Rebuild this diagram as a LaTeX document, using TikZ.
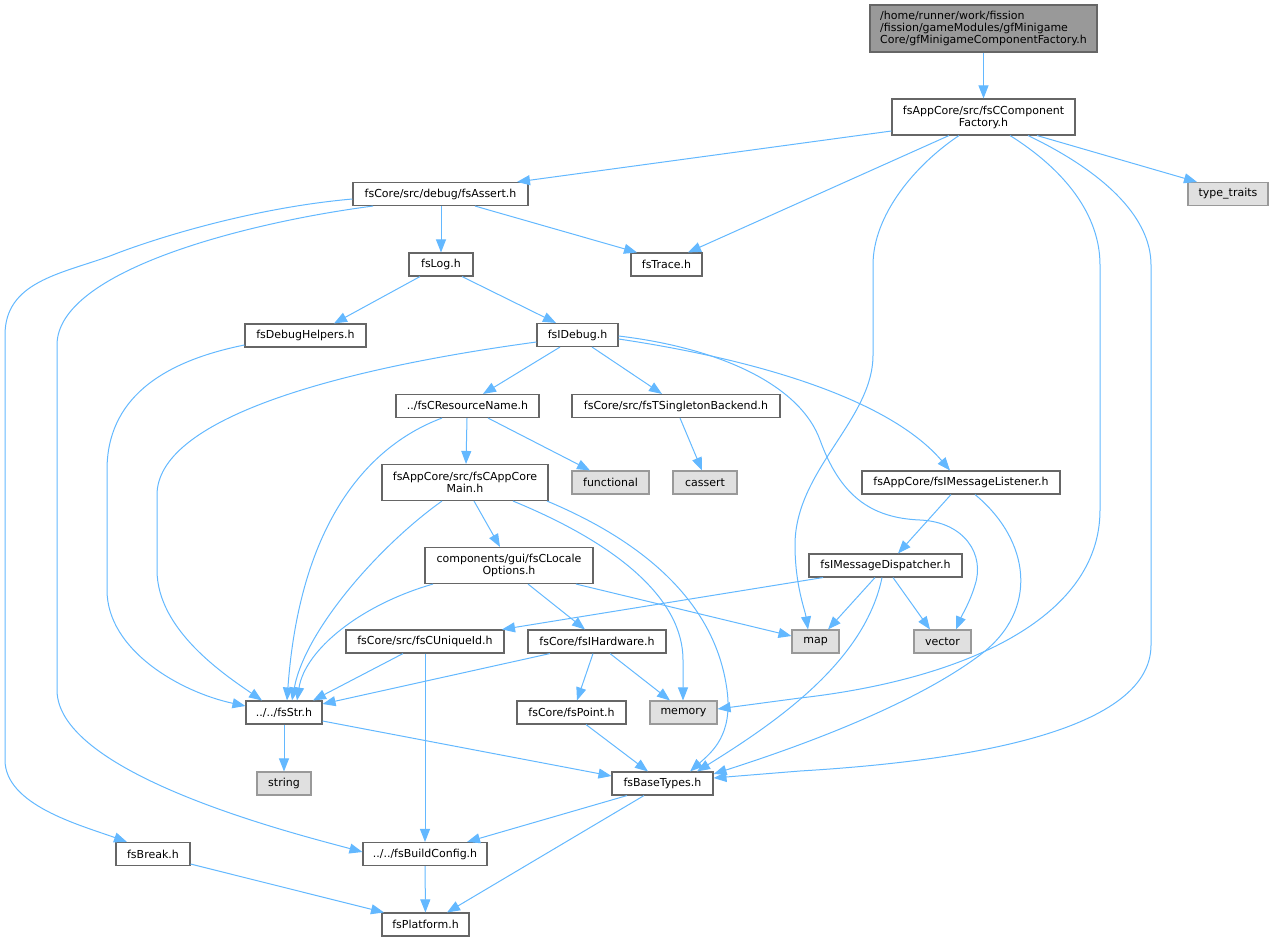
\documentclass[tikz,border=0pt]{standalone}
\usepackage{fontspec}
\setmainfont{DejaVu Sans}
\usetikzlibrary{arrows.meta}
\definecolor{edgeblue}{HTML}{63B8FF}
\definecolor{bord}{HTML}{666666}
\definecolor{extbord}{HTML}{999999}
\definecolor{extfill}{HTML}{E0E0E0}
\definecolor{topfill}{HTML}{999999}
\newcommand{\nfnt}{\fontsize{11pt}{12pt}\selectfont}
\begin{document}
\begin{tikzpicture}[x=1pt,y=-1pt,
  nbox/.style={draw=bord, fill=white, line width=1.1pt, inner sep=0pt, minimum height=23pt, font=\nfnt, align=center},
  xbox/.style={nbox, draw=extbord, fill=extfill},
  twoline/.style={minimum height=36pt},
  edg/.style={draw=edgeblue, line width=1pt, -{Triangle[length=13pt,width=10pt]}}]
\useasboundingbox (0,0) rectangle (1273,941);
% nodes
\node[nbox, fill=topfill, align=left, minimum width=227pt, minimum height=47pt] (top) at (983.5,28.5) {/home/runner/work/fission\\/fission/gameModules/gfMinigame\\Core/gfMinigameComponentFactory.h};
\node[nbox, twoline, minimum width=183pt] (fact) at (983.5,117) {fsAppCore/src/fsCComponent\\Factory.h};
\node[xbox, minimum width=80pt] (tt) at (1228,194) {type\_traits};
\node[nbox, minimum width=175pt] (assert) at (440.5,194) {fsCore/src/debug/fsAssert.h};
\node[nbox, minimum width=64pt] (log) at (441,264.5) {fsLog.h};
\node[nbox, minimum width=71pt] (trace) at (666.5,264.5) {fsTrace.h};
\node[nbox, minimum width=81pt] (idebug) at (577.5,335) {fsIDebug.h};
\node[nbox, minimum width=121pt] (dbgh) at (305.5,335.5) {fsDebugHelpers.h};
\node[nbox, minimum width=143pt] (resname) at (467.5,406) {../fsCResourceName.h};
\node[nbox, minimum width=208pt] (single) at (676,406) {fsCore/src/fsTSingletonBackend.h};
\node[nbox, twoline, minimum width=166pt] (appmain) at (465,482.5) {fsAppCore/src/fsCAppCore\\Main.h};
\node[xbox, minimum width=77pt] (functional) at (610.5,482.5) {functional};
\node[xbox, minimum width=64pt] (cassert) at (705,482.5) {cassert};
\node[nbox, twoline, minimum width=168pt] (locale) at (509,565.5) {components/gui/fsCLocale\\Options.h};
\node[nbox, minimum width=198pt] (listener) at (961,482.5) {fsAppCore/fsIMessageListener.h};
\node[nbox, minimum width=153pt] (dispatcher) at (885.5,565.5) {fsIMessageDispatcher.h};
\node[xbox, minimum width=47pt] (map) at (815.5,641.5) {map};
\node[xbox, minimum width=57pt] (vector) at (942.5,641.5) {vector};
\node[nbox, minimum width=158pt] (uniqueid) at (425,641.5) {fsCore/src/fsCUniqueId.h};
\node[nbox, minimum width=138pt] (hardware) at (597,641.5) {fsCore/fsIHardware.h};
\node[nbox, minimum width=76pt] (str) at (284,712.5) {../../fsStr.h};
\node[xbox, minimum width=54pt] (stringn) at (284,783.5) {string};
\node[nbox, minimum width=109pt] (point) at (571.5,712.5) {fsCore/fsPoint.h};
\node[xbox, minimum width=67pt] (memory) at (683.5,712.5) {memory};
\node[nbox, minimum width=101pt] (base) at (662.5,783.5) {fsBaseTypes.h};
\node[nbox, minimum width=74pt] (brk) at (153,854) {fsBreak.h};
\node[nbox, minimum width=124pt] (bconf) at (425,854) {../../fsBuildConfig.h};
\node[nbox, minimum width=87pt] (plat) at (425.5,924.5) {fsPlatform.h};
% edges
\draw[edg] (top) -- (fact);
\draw[edg] (fact.west |- 0,131) -- (assert.north -| 517,0);
\draw[edg] (fact.south -| 949,0) -- (trace.north -| 688,0);
\draw[edg] (fact.south -| 959,0) .. controls (915,165) and (873,215) .. (873,265) -- (873,355) .. controls (873,420) and (795,470) .. (795,545) .. controls (795,585) and (805,610) .. (map.north -| 808,0);
\draw[edg] (fact.south -| 1010,0) .. controls (1065,170) and (1100,215) .. (1100,265) -- (1100,510) .. controls (1100,620) and (960,680) .. (800,698) -- (memory.east |- 0,709);
\draw[edg] (fact.south -| 1028,0) .. controls (1100,170) and (1151,215) .. (1151,265) -- (1151,645) .. controls (1151,735) and (950,762) .. (800,771) -- (base.east |- 0,778);
\draw[edg] (fact.south -| 1037,0) -- (tt.north -| 1197,0);
\draw[edg] (assert.south -| 441,0) -- (log.north -| 441,0);
\draw[edg] (assert.south -| 475,0) -- (trace.north -| 637,0);
\draw[edg] (assert.west |- 0,199) .. controls (250,208) and (150,240) .. (110,256) .. controls (60,274) and (5,282) .. (5,335) -- (5,760) .. controls (5,805) and (80,825) .. (brk.north -| 127,0);
\draw[edg] (assert.south -| 373,0) .. controls (250,222) and (57,270) .. (57,345) -- (57,690) .. controls (57,775) and (300,835) .. (bconf.west |- 0,852);
\draw[edg] (log.south -| 420,0) -- (dbgh.north -| 334,0);
\draw[edg] (log.south -| 462,0) -- (idebug.north -| 556,0);
\draw[edg] (dbgh.west |- 0,345) .. controls (160,362) and (107,400) .. (107,470) -- (107,590) .. controls (107,650) and (180,692) .. (str.west |- 0,706);
\draw[edg] (idebug.west |- 0,342) .. controls (330,370) and (157,420) .. (157,495) -- (157,570) .. controls (157,630) and (225,675) .. (str.north -| 262,0);
\draw[edg] (idebug.south -| 560,0) -- (resname.north -| 483,0);
\draw[edg] (idebug.south -| 592,0) -- (single.north -| 662,0);
\draw[edg] (idebug.east |- 0,339) .. controls (760,360) and (890,400) .. (listener.north -| 950,0);
\draw[edg] (idebug.east |- 0,336) .. controls (720,348) and (800,385) .. (820,440) .. controls (840,495) and (870,518) .. (920,520) .. controls (965,522) and (985,555) .. (975,585) .. controls (970,602) and (962,615) .. (vector.north -| 956,0);
\draw[edg] (resname.south -| 442,0) .. controls (370,445) and (300,520) .. (str.north -| 287,0);
\draw[edg] (resname.south -| 467,0) -- (appmain.north -| 466,0);
\draw[edg] (resname.south -| 488,0) -- (functional.north -| 590,0);
\draw[edg] (single.south -| 680,0) -- (cassert.north -| 702,0);
\draw[edg] (appmain.south -| 442,0) .. controls (380,545) and (305,630) .. (str.north -| 292,0);
\draw[edg] (appmain.south -| 474,0) -- (locale.north -| 500,0);
\draw[edg] (appmain.south -| 513,0) .. controls (620,545) and (683,600) .. (683,660) -- (memory.north -| 683,0);
\draw[edg] (appmain.south -| 547,0) .. controls (640,540) and (715,600) .. (727,690) .. controls (733,735) and (712,752) .. (base.north -| 690,0);
\draw[edg] (locale.south -| 433,0) .. controls (360,605) and (305,650) .. (str.north -| 297,0);
\draw[edg] (locale.south -| 528,0) -- (hardware.north -| 585,0);
\draw[edg] (locale.south -| 576,0) -- (map.west |- 0,636);
\draw[edg] (listener.south -| 951,0) -- (dispatcher.north -| 898,0);
\draw[edg] (listener.south -| 975,0) .. controls (1030,540) and (1040,610) .. (980,655) .. controls (920,700) and (820,740) .. (base.east |- 0,774);
\draw[edg] (dispatcher.south -| 823,0) -- (uniqueid.north -| 502,0);
\draw[edg] (dispatcher.south -| 875,0) -- (map.north -| 828,0);
\draw[edg] (dispatcher.south -| 893,0) -- (vector.north -| 930,0);
\draw[edg] (dispatcher.south -| 882,0) .. controls (865,660) and (780,720) .. (base.north -| 697,0);
\draw[edg] (uniqueid.south -| 403,0) -- (str.north -| 313,0);
\draw[edg] (uniqueid.south -| 425,0) -- (bconf.north -| 425,0);
\draw[edg] (hardware.south -| 550,0) -- (str.east |- 0,704);
\draw[edg] (hardware.south -| 593,0) -- (point.north -| 577,0);
\draw[edg] (hardware.south -| 610,0) -- (memory.north -| 670,0);
\draw[edg] (str) -- (stringn);
\draw[edg] (str.east |- 0,721) -- (base.west |- 0,776);
\draw[edg] (point.south -| 586,0) -- (base.north -| 648,0);
\draw[edg] (base.south -| 627,0) -- (bconf.north -| 467,0);
\draw[edg] (base.south -| 644,0) -- (plat.north -| 447,0);
\draw[edg] (bconf) -- (plat);
\draw[edg] (brk.east |- 0,864) -- (plat.north -| 384,0);
\end{tikzpicture}
\end{document}
